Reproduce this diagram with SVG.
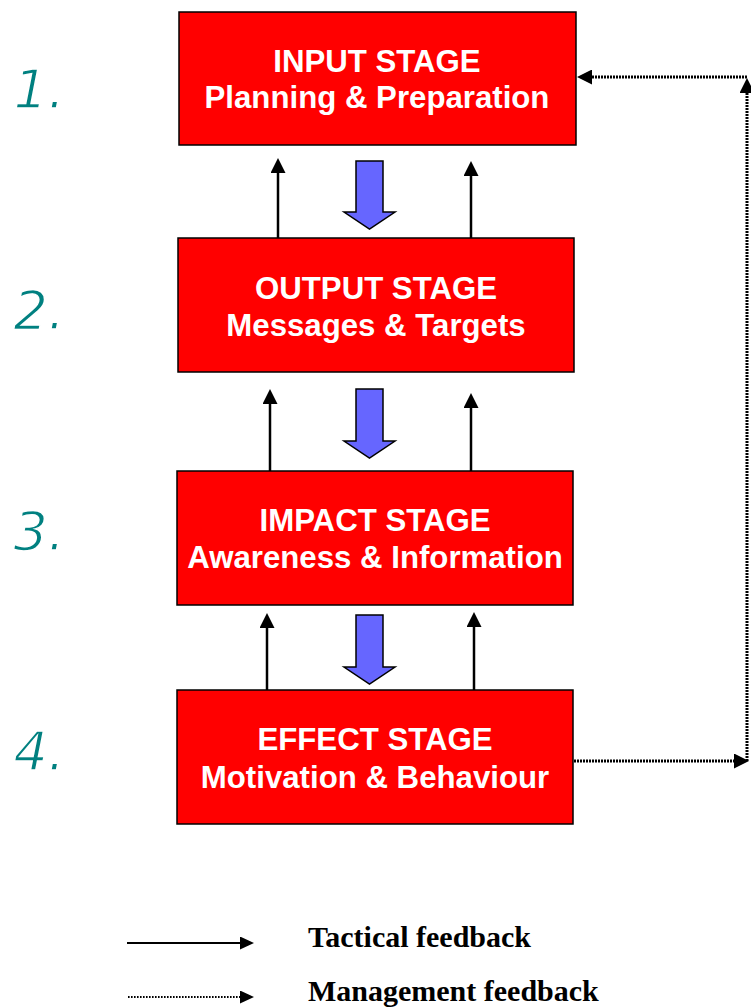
<svg xmlns="http://www.w3.org/2000/svg" width="751" height="1008" viewBox="0 0 751 1008">
  <style>
    .box { fill: #ff0000; stroke: #000000; stroke-width: 1.5; }
    .title { font-family: "Liberation Sans", Arial, sans-serif; font-weight: bold; font-size: 31.2px; fill: #ffffff; text-anchor: middle; }
    .num { font-family: "DejaVu Sans", Verdana, sans-serif; font-style: italic; font-size: 54px; fill: #008080; stroke: #ffffff; stroke-width: 1.4; text-anchor: end; }
    .flow { fill: #6666ff; stroke: #000000; stroke-width: 1.5; stroke-linejoin: miter; }
    .tactical { stroke: #000000; stroke-width: 2.5; fill: none; marker-end: url(#head); }
    .mgmt { stroke: #000000; stroke-width: 3; stroke-dasharray: 2 1; fill: none; marker-end: url(#head); }
    .legend { font-family: "Liberation Serif", "Times New Roman", serif; font-weight: bold; font-size: 30px; fill: #000000; }
  </style>
  <defs>
    <marker id="head" viewBox="0 0 15 15" refX="0" refY="7.5" markerWidth="15" markerHeight="15" markerUnits="userSpaceOnUse" orient="auto">
      <path d="M0,0 L15,7.5 L0,15 z" fill="#000000"/>
    </marker>
    <marker id="headSmall" viewBox="0 0 14 13" refX="0" refY="6.5" markerWidth="14" markerHeight="13" markerUnits="userSpaceOnUse" orient="auto">
      <path d="M0,0 L14,6.5 L0,13 z" fill="#000000"/>
    </marker>
  </defs>

  <rect width="751" height="1008" fill="#ffffff"/>

  <!-- stage numbers (thin white outline keeps the strokes light) -->
  <g id="numbers">
    <text class="num" x="65" y="108">1.</text>
    <text class="num" x="65" y="329">2.</text>
    <text class="num" x="65" y="550">3.</text>
    <text class="num" x="65" y="770">4.</text>
  </g>

  <!-- stages -->
  <g id="input-stage">
    <rect class="box" x="179" y="12" width="397" height="133"/>
    <text class="title" x="377" y="72">INPUT STAGE</text>
    <text class="title" x="377" y="108">Planning &amp; Preparation</text>
  </g>
  <g id="output-stage">
    <rect class="box" x="178" y="238" width="396" height="134"/>
    <text class="title" x="376" y="299">OUTPUT STAGE</text>
    <text class="title" x="376" y="336">Messages &amp; Targets</text>
  </g>
  <g id="impact-stage">
    <rect class="box" x="177" y="471" width="396" height="134"/>
    <text class="title" x="375" y="531">IMPACT STAGE</text>
    <text class="title" x="375" y="568">Awareness &amp; Information</text>
  </g>
  <g id="effect-stage">
    <rect class="box" x="177" y="690" width="396" height="134"/>
    <text class="title" x="375" y="750">EFFECT STAGE</text>
    <text class="title" x="375" y="788">Motivation &amp; Behaviour</text>
  </g>

  <!-- connectors -->
  <g id="connectors">
    <!-- downward flow between stages -->
    <polygon class="flow" points="356,161 383,161 383,212 395,212 369.5,229 344,212 356,212"/>
    <polygon class="flow" points="356,389 383,389 383,441 395,441 369.5,458 344,441 356,441"/>
    <polygon class="flow" points="356,615 383,615 383,667 395,667 369.5,684 344,667 356,667"/>

    <!-- tactical feedback -->
    <path class="tactical" d="M278,238 L278,173"/>
    <path class="tactical" d="M471,238 L471,176"/>
    <path class="tactical" d="M270,471 L270,404"/>
    <path class="tactical" d="M471,471 L471,408"/>
    <path class="tactical" d="M267,690 L267,628"/>
    <path class="tactical" d="M474,690 L474,627"/>

    <!-- management feedback loop -->
    <path class="mgmt" d="M574,761 L734,761"/>
    <path class="mgmt" d="M747,761 L747,93"/>
    <path class="mgmt" d="M747,77 L592,77"/>
  </g>

  <!-- legend -->
  <g id="legend">
    <path d="M127,943 L240,943" stroke="#000000" stroke-width="2.2" fill="none" marker-end="url(#headSmall)"/>
    <path d="M128,997 L240,997" stroke="#000000" stroke-width="2" stroke-dasharray="1.6 1.4" fill="none" marker-end="url(#headSmall)"/>
    <text class="legend" x="308" y="947">Tactical feedback</text>
    <text class="legend" x="308" y="1001">Management feedback</text>
  </g>
</svg>
